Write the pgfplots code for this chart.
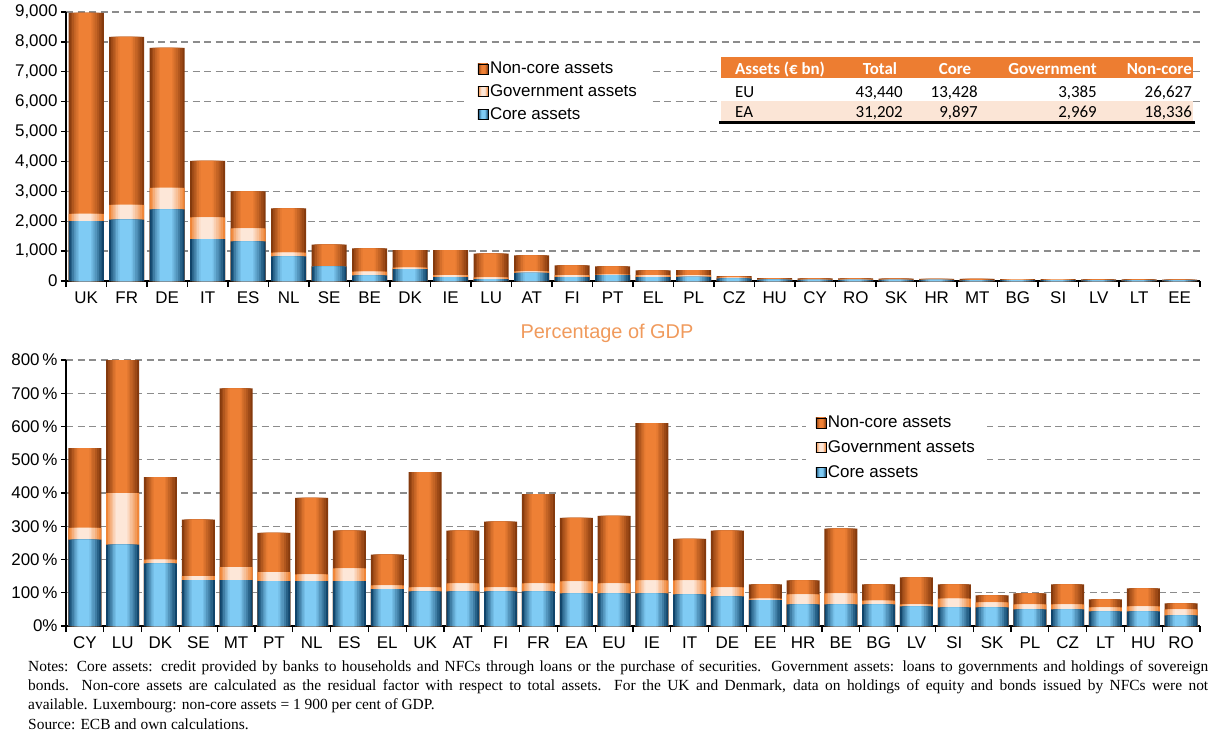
\documentclass[border=0pt]{standalone}
\usepackage{fontspec}
\setmainfont{Liberation Sans}
\newfontfamily\calibri{Carlito}
\newfontfamily\notesfont{Liberation Serif}
\usepackage{pgfplots}
\usepackage{pgfplotstable}
\pgfplotsset{compat=1.18}
\definecolor{coreD}{HTML}{10446A}
\definecolor{coreL}{HTML}{7FCBF4}
\definecolor{govD}{HTML}{EF8537}
\definecolor{govL}{HTML}{FDE7D8}
\definecolor{ncD}{HTML}{853A0D}
\definecolor{ncL}{HTML}{EE8035}
\definecolor{gridg}{HTML}{8C8C8C}
\definecolor{hdr}{HTML}{ED7D31}
\definecolor{rowEA}{HTML}{FBE5D6}
\definecolor{ttl}{HTML}{F09A5C}
\pgfdeclarehorizontalshading{coreS}{100bp}{color(0bp)=(coreD); color(25bp)=(coreD); color(42bp)=(coreL); color(59bp)=(coreL); color(75bp)=(coreD); color(100bp)=(coreD)}
\pgfdeclarehorizontalshading{govS}{100bp}{color(0bp)=(govD); color(25bp)=(govD); color(42bp)=(govL); color(59bp)=(govL); color(75bp)=(govD); color(100bp)=(govD)}
\pgfdeclarehorizontalshading{ncS}{100bp}{color(0bp)=(ncD); color(25bp)=(ncD); color(42bp)=(ncL); color(59bp)=(ncL); color(75bp)=(ncD); color(100bp)=(ncD)}

% EUR bn: core = top of core assets, gov = top of government assets, total = total assets
\pgfplotstableread{
x core gov total
0 2000 2250 8970
1 2050 2550 8170
2 2400 3120 7800
3 1400 2130 4020
4 1330 1760 3000
5 820 950 2430
6 490 500 1220
7 190 310 1090
8 400 450 1030
9 130 200 1030
10 60 120 920
11 270 320 860
12 130 200 520
13 200 210 490
14 130 200 355
15 140 200 360
16 90 115 160
17 50 65 95
18 40 50 90
19 40 55 85
20 40 50 78
21 35 45 75
22 20 28 68
23 30 38 66
24 28 38 64
25 20 25 55
26 22 27 52
27 20 23 50
}\topdata
% per cent of GDP
\pgfplotstableread{
x core gov total
0 260 295 535
1 245 400 805
2 188 200 448
3 138 150 320
4 138 177 715
5 135 162 280
6 135 155 385
7 135 173 287
8 111 122 215
9 104 116 463
10 104 128 287
11 104 116 314
12 104 128 397
13 98 134 325
14 98 128 331
15 98 137 610
16 95 137 262
17 89 116 287
18 78 82 125
19 65 95 137
20 65 98 293
21 65 76 125
22 59 65 146
23 56 82 125
24 56 71 92
25 50 65 98
26 50 65 125
27 44 56 80
28 44 59 113
29 32 50 68
}\botdata

% one bar series drawn as nested bars, dark at the edges, light in the middle
\newcommand{\layers}[4]{%
\addplot[ybar, bar shift=0pt, draw=none, forget plot, fill=#3, bar width=\wA] table[x=x,y=#2]{#1};
\addplot[ybar, bar shift=0pt, draw=none, forget plot, fill=#4!22!#3, bar width=\wB] table[x=x,y=#2]{#1};
\addplot[ybar, bar shift=-0.5bp, draw=none, forget plot, fill=#4!42!#3, bar width=\wC] table[x=x,y=#2]{#1};
\addplot[ybar, bar shift=-0.5bp, draw=none, forget plot, fill=#4!60!#3, bar width=\wD] table[x=x,y=#2]{#1};
\addplot[ybar, bar shift=-1bp, draw=none, forget plot, fill=#4!76!#3, bar width=\wE] table[x=x,y=#2]{#1};
\addplot[ybar, bar shift=-1bp, draw=none, forget plot, fill=#4!90!#3, bar width=\wF] table[x=x,y=#2]{#1};
\addplot[ybar, bar shift=-1bp, draw=none, forget plot, fill=#4, bar width=\wG] table[x=x,y=#2]{#1};
}

\pgfplotsset{
  mybase/.style={
    scale only axis, width=1134bp,
    axis x line*=bottom, axis y line*=left,
    axis line style={line width=1.6bp, black},
    tick align=outside,
    major tick length=5bp, minor tick length=6bp,
    tick style={line width=1.3bp, black},
    major x tick style={draw=none},
    minor x tick style={line width=1.3bp, black},
    ymajorgrids,
    major grid style={line width=1.4bp, gridg, dash pattern=on 7bp off 4.5bp},
    tick label style={font=\fontsize{17}{17}\selectfont},
    xticklabel style={yshift=-2bp},
    /pgf/number format/assume math mode=true,
    scaled y ticks=false,
    legend cell align=left,
    legend style={draw=none, fill=white, font=\fontsize{17}{17}\selectfont,
      inner xsep=10bp, inner ysep=4bp, anchor=north west},
  },
  coreP/.style={legend image code/.code={\path[shade, shading=coreS] (0bp,-5bp) rectangle (10bp,5bp);}},
  govP/.style={legend image code/.code={\path[shade, shading=govS] (0bp,-5bp) rectangle (10bp,5bp);}},
  ncP/.style={legend image code/.code={\path[shade, shading=ncS] (0bp,-5bp) rectangle (10bp,5bp);}},
}
\begin{document}
\begin{tikzpicture}
\useasboundingbox (0bp,0bp) rectangle (1213bp,-738bp);
% ---------------- top chart (EUR bn)
\def\wA{35bp}\def\wB{31bp}\def\wC{27bp}\def\wD{23bp}\def\wE{19bp}\def\wF{15bp}\def\wG{12bp}
\begin{axis}[mybase,
  at={(66bp,-281bp)}, anchor=south west, height=269bp,
  xmin=-0.5, xmax=27.5, ymin=0, ymax=9000,
  xtick={0,...,27},
  xticklabels={UK,FR,DE,IT,ES,NL,SE,BE,DK,IE,LU,AT,FI,PT,EL,PL,CZ,HU,CY,RO,SK,HR,MT,BG,SI,LV,LT,EE},
  minor xtick={-0.5,0.5,...,27.5},
  ytick={0,1000,...,9000},
  yticklabel style={/pgf/number format/1000 sep={,}},
  legend style={at={(0.354,0.836)}, row sep=5.5bp},
]
\layers{\topdata}{total}{ncD}{ncL}
\layers{\topdata}{gov}{govD}{govL}
\layers{\topdata}{core}{coreD}{coreL}
\addlegendimage{ncP}\addlegendentry{Non-core assets}
\addlegendimage{govP}\addlegendentry{Government assets}
\addlegendimage{coreP}\addlegendentry{Core assets}
\end{axis}
% ---------------- table
\fill[hdr] (721bp,-57bp) rectangle (1193bp,-78bp);
\fill[white] (721bp,-78bp) rectangle (1193bp,-101bp);
\fill[rowEA] (721bp,-101bp) rectangle (1193bp,-121bp);
\draw[line width=2.5bp] (719bp,-122.5bp) -- (1195bp,-122.5bp);
\begin{scope}[every node/.style={inner sep=0pt, font=\calibri\fontsize{17}{17}\selectfont}]
\node[anchor=base west, text=white, font=\calibri\bfseries\fontsize{17}{17}\selectfont] at (735bp,-74bp) {Assets (€ bn)};
\node[anchor=base, text=white, font=\calibri\bfseries\fontsize{17}{17}\selectfont] at (880bp,-74bp) {Total};
\node[anchor=base, text=white, font=\calibri\bfseries\fontsize{17}{17}\selectfont] at (955bp,-74bp) {Core};
\node[anchor=base east, text=white, font=\calibri\bfseries\fontsize{17}{17}\selectfont] at (1097bp,-74bp) {Government};
\node[anchor=base east, text=white, font=\calibri\bfseries\fontsize{17}{17}\selectfont] at (1192bp,-74bp) {Non-core};
\node[anchor=base west] at (735bp,-97bp) {EU};
\node[anchor=base east] at (903bp,-97bp) {43,440};
\node[anchor=base east] at (978bp,-97bp) {13,428};
\node[anchor=base east] at (1097bp,-97bp) {3,385};
\node[anchor=base east] at (1192bp,-97bp) {26,627};
\node[anchor=base west] at (735bp,-117bp) {EA};
\node[anchor=base east] at (903bp,-117bp) {31,202};
\node[anchor=base east] at (978bp,-117bp) {9,897};
\node[anchor=base east] at (1097bp,-117bp) {2,969};
\node[anchor=base east] at (1192bp,-117bp) {18,336};
\end{scope}
% ---------------- title of lower chart
\node[text=ttl, font=\fontsize{20}{20}\selectfont, inner sep=0pt] at (607bp,-333bp) {Percentage of GDP};
% ---------------- bottom chart (% of GDP)
\def\wA{33bp}\def\wB{29bp}\def\wC{25bp}\def\wD{21bp}\def\wE{17bp}\def\wF{14bp}\def\wG{11bp}
\begin{axis}[mybase,
  at={(66bp,-626bp)}, anchor=south west, height=266bp,
  xmin=-0.5, xmax=29.5, ymin=0, ymax=800,
  xtick={0,...,29},
  xticklabels={CY,LU,DK,SE,MT,PT,NL,ES,EL,UK,AT,FI,FR,EA,EU,IE,IT,DE,EE,HR,BE,BG,LV,SI,SK,PL,CZ,LT,HU,RO},
  minor xtick={-0.5,0.5,...,29.5},
  ytick={0,100,...,800},
  yticklabels={0\%,100\,\%,200\,\%,300\,\%,400\,\%,500\,\%,600\,\%,700\,\%,800\,\%},
  legend style={at={(0.652,0.812)}, row sep=7.5bp},
]
\layers{\botdata}{total}{ncD}{ncL}
\layers{\botdata}{gov}{govD}{govL}
\layers{\botdata}{core}{coreD}{coreL}
\addlegendimage{ncP}\addlegendentry{Non-core assets}
\addlegendimage{govP}\addlegendentry{Government assets}
\addlegendimage{coreP}\addlegendentry{Core assets}
\end{axis}
% ---------------- notes
\node[anchor=north west, inner sep=0pt, text width=1180bp, align=justify,
  font=\notesfont\fontsize{15.5}{19.5}\selectfont] at (28bp,-660bp)
{Notes: Core assets: credit provided by banks to households and NFCs through loans or the purchase of securities. Government assets: loans to governments and holdings of sovereign\linebreak
bonds. Non-core assets are calculated as the residual factor with respect to total assets. For the UK and Denmark, data on holdings of equity and bonds issued by NFCs were not\linebreak
available. Luxembourg: non-core assets = 1~900 per cent of GDP.\\
Source: ECB and own calculations.};
\end{tikzpicture}
\end{document}
